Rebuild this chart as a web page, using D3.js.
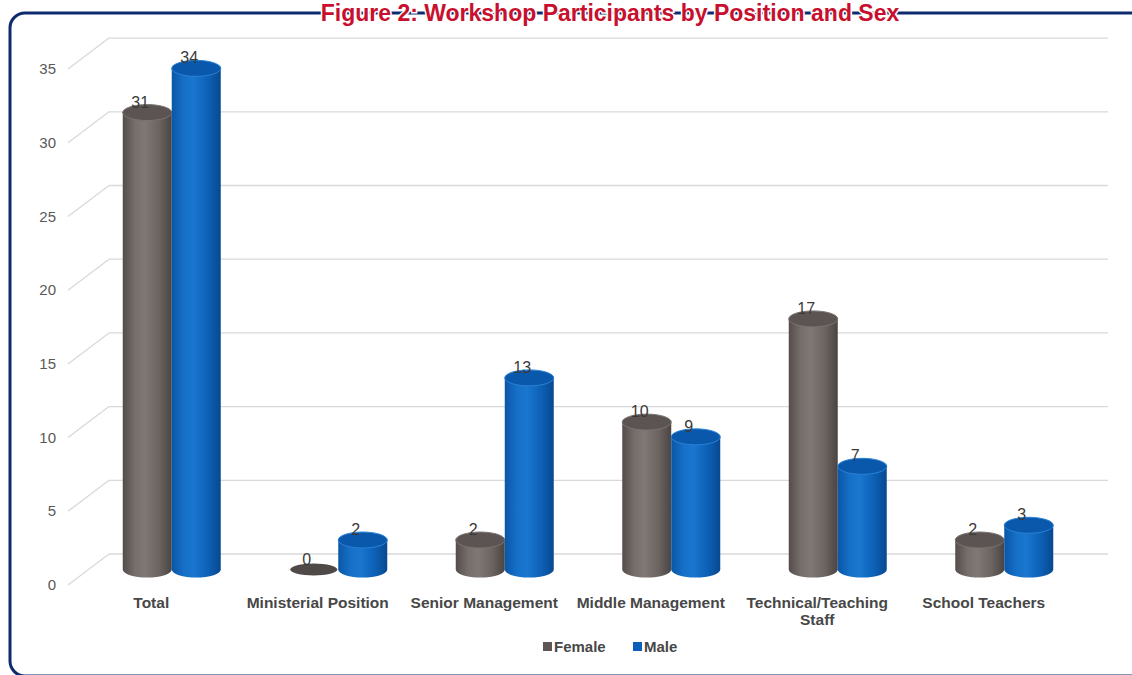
<!DOCTYPE html>
<html>
<head>
<meta charset="utf-8">
<script src="https://cdn.jsdelivr.net/npm/d3@7"></script>
<style>
  html, body { margin: 0; padding: 0; background: #ffffff; }
  svg { display: block; font-family: "Liberation Sans", Arial, sans-serif; }
</style>
</head>
<body>
<svg id="chart" width="1132" height="675"></svg>
<script>
// Participants by position, split by sex
const categories = ["Total", "Ministerial Position", "Senior Management", "Middle Management", "Technical/Teaching Staff", "School Teachers"];
const categoryLines = [["Total"], ["Ministerial Position"], ["Senior Management"], ["Middle Management"], ["Technical/Teaching", "Staff"], ["School Teachers"]];
const female = [31, 0, 2, 10, 17, 2];
const male = [34, 2, 13, 9, 7, 3];
const seriesNames = ["Female", "Male"];
const yTicks = [0, 5, 10, 15, 20, 25, 30, 35];

const svg = d3.select("#chart");

// 3D frame: front plane of the floor and the depth offset of the back wall
const front = { x0: 68, x1: 1067, y0: 585 };
const depth = { dx: 41, dy: -31 };
const unit = 14.74; // pixels per participant

const x = d3.scaleBand().domain(categories).range([front.x0, front.x1]).paddingInner(0).paddingOuter(0);
const yBack = d3.scaleLinear().domain([0, 35]).range([front.y0 + depth.dy, front.y0 + depth.dy - 35 * unit]);
const yFront = d3.scaleLinear().domain([0, 35]).range([front.y0, front.y0 - 35 * unit]);
const yMid = d3.scaleLinear().domain([0, 35]).range([front.y0 + depth.dy / 2, front.y0 + depth.dy / 2 - 35 * unit]);

// Frame border
svg.append("rect")
  .attr("x", 10).attr("y", 13)
  .attr("width", 1150).attr("height", 663)
  .attr("rx", 15).attr("ry", 15)
  .attr("fill", "#ffffff")
  .attr("stroke", "#0e2a6f").attr("stroke-width", 3);

// Title, haloed so it reads over the frame line
svg.append("text")
  .attr("x", 610).attr("y", 21)
  .attr("text-anchor", "middle")
  .attr("font-size", 23).attr("font-weight", "bold")
  .attr("fill", "#c8102e")
  .attr("stroke", "#ffffff").attr("stroke-width", 3).attr("paint-order", "stroke")
  .text("Figure 2: Workshop Participants by Position and Sex");

// Gridlines: back wall and left side wall
const grid = svg.append("g").attr("stroke", "#d9d9d9").attr("stroke-width", 1.3).attr("fill", "none");
yTicks.forEach(t => {
  grid.append("line")
    .attr("x1", front.x0 + depth.dx).attr("x2", front.x1 + depth.dx)
    .attr("y1", yBack(t)).attr("y2", yBack(t));
  grid.append("line")
    .attr("x1", front.x0).attr("y1", yFront(t))
    .attr("x2", front.x0 + depth.dx).attr("y2", yBack(t));
});

// Y tick labels on the front plane
svg.append("g").selectAll("text").data(yTicks).join("text")
  .attr("x", 56).attr("y", d => yFront(d) + 5)
  .attr("text-anchor", "end")
  .attr("font-size", 15).attr("fill", "#595959")
  .text(d => d);

// Gradients for the cylinder bodies
const defs = svg.append("defs");
function gradient(id, stops) {
  const g = defs.append("linearGradient").attr("id", id).attr("x1", "0%").attr("x2", "100%").attr("y1", "0%").attr("y2", "0%");
  stops.forEach(([o, c]) => g.append("stop").attr("offset", o).attr("stop-color", c));
}
gradient("gFemale", [["0%", "#544d4b"], ["25%", "#756e6b"], ["45%", "#807875"], ["75%", "#6a6360"], ["100%", "#4a4442"]]);
gradient("gMale", [["0%", "#0a56a6"], ["25%", "#1670c8"], ["45%", "#1a76cf"], ["75%", "#0c60b5"], ["100%", "#08488f"]]);

const styles = [
  { body: "url(#gFemale)", top: "#5b5452", rim: "#7a7370", flat: "#4f4a48" },
  { body: "url(#gMale)", top: "#0a58ab", rim: "#2a82d6", flat: "#0a58ab" }
];

const rx = 24.5, ry = 8;
const bars = [];
categories.forEach((c, i) => {
  const center = x(c) + x.bandwidth() / 2 + depth.dx / 2;
  [female[i], male[i]].forEach((v, s) => {
    bars.push({ cat: c, s, v, cx: center + (s === 0 ? -rx : rx) });
  });
});

const barG = svg.append("g");
bars.forEach(b => {
  const yb = yMid(0), yt = yMid(b.v);
  const st = styles[b.s];
  if (b.v === 0) {
    barG.append("ellipse")
      .attr("cx", b.cx).attr("cy", yb)
      .attr("rx", rx - 1).attr("ry", ry - 2)
      .attr("fill", st.flat);
    return;
  }
  barG.append("path")
    .attr("d", `M${b.cx - rx},${yt} L${b.cx - rx},${yb} A${rx},${ry} 0 0 0 ${b.cx + rx},${yb} L${b.cx + rx},${yt} Z`)
    .attr("fill", st.body);
  barG.append("ellipse")
    .attr("cx", b.cx).attr("cy", yt)
    .attr("rx", rx).attr("ry", ry)
    .attr("fill", st.top)
    .attr("stroke", st.rim).attr("stroke-width", 1);
});

// Value labels
svg.append("g").selectAll("text").data(bars).join("text")
  .attr("x", d => d.cx - 7)
  .attr("y", d => yMid(d.v) - 5)
  .attr("text-anchor", "middle")
  .attr("font-size", 16).attr("fill", "#3a3a3a")
  .text(d => d.v);

// Category labels along the front edge of the floor
const catG = svg.append("g");
categories.forEach((c, i) => {
  const cxLabel = x(c) + x.bandwidth() / 2;
  const t = catG.append("text")
    .attr("x", cxLabel)
    .attr("y", 608)
    .attr("text-anchor", "middle")
    .attr("font-size", 15.5).attr("font-weight", "bold").attr("fill", "#474747");
  categoryLines[i].forEach((line, k) => {
    t.append("tspan").attr("x", cxLabel).attr("dy", k === 0 ? 0 : 17).text(line);
  });
});

// Legend
const legendColors = ["#5d5654", "#0a5fb8"];
const legendX = [543, 633];
const lg = svg.append("g");
seriesNames.forEach((n, i) => {
  lg.append("rect").attr("x", legendX[i]).attr("y", 642).attr("width", 9).attr("height", 9).attr("fill", legendColors[i]);
  lg.append("text").attr("x", legendX[i] + 11).attr("y", 652)
    .attr("font-size", 15).attr("font-weight", "bold").attr("fill", "#474747").text(n);
});
</script>
</body>
</html>
